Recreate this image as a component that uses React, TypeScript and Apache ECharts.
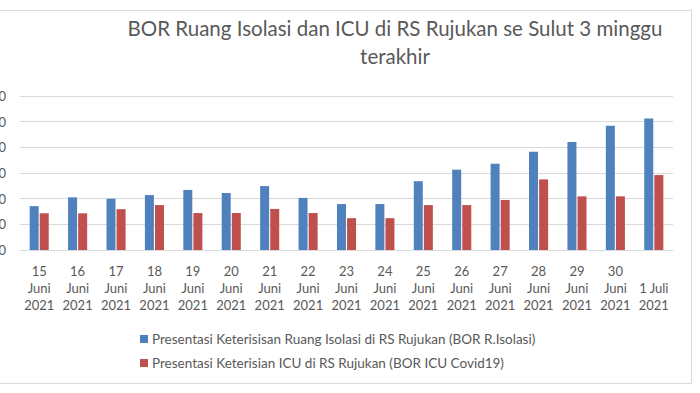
import React, { useEffect, useRef } from "react";
import * as echarts from "echarts";

const days = ["15", "16", "17", "18", "19", "20", "21", "22", "23", "24", "25", "26", "27", "28", "29", "30", ""];
const months = ["Juni", "Juni", "Juni", "Juni", "Juni", "Juni", "Juni", "Juni", "Juni", "Juni", "Juni", "Juni", "Juni", "Juni", "Juni", "Juni", "1 Juli"];
const years = ["2021", "2021", "2021", "2021", "2021", "2021", "2021", "2021", "2021", "2021", "2021", "2021", "2021", "2021", "2021", "2021", "2021"];
const isolasi = [17.1, 20.5, 20.0, 21.4, 23.4, 22.2, 24.9, 20.3, 17.9, 17.9, 26.8, 31.3, 33.6, 38.3, 42.1, 48.4, 51.2];
const icu = [14.3, 14.3, 15.9, 17.5, 14.4, 14.4, 16.0, 14.4, 12.4, 12.4, 17.5, 17.5, 19.5, 27.5, 20.9, 20.9, 29.2];
const seriesNames = [
  "Presentasi Keterisisan Ruang Isolasi di RS Rujukan (BOR R.Isolasi)",
  "Presentasi Keterisian ICU di RS Rujukan (BOR ICU Covid19)",
];
const titleLines = ["BOR Ruang Isolasi dan ICU di RS Rujukan se Sulut 3 minggu", "terakhir"];

export default function App() {
  const ref = useRef<HTMLDivElement>(null);
  useEffect(() => {
    if (!ref.current) return;
    const chart = echarts.init(ref.current, null, { renderer: "svg" });
    const categories = days.map((d, i) => d + "\n" + months[i] + "\n" + years[i]);
    const font = "Lato, 'Open Sans', sans-serif";
    chart.setOption({
      animation: false,
      backgroundColor: "#ffffff",
      textStyle: { fontFamily: font },
      grid: { left: 40, right: 27, top: 96, bottom: 143, containLabel: false },
      graphic: [
        {
          type: "rect",
          shape: { x: 0.5, y: 10.5, width: 711, height: 373 },
          style: { fill: "none", stroke: "#d9d9d9", lineWidth: 1 },
          silent: true,
        },
        {
          type: "text",
          x: 415,
          y: 28,
          style: {
            text: titleLines[0],
            fontFamily: font,
            fontSize: 20.5,
            fill: "#595959",
            textAlign: "center",
            textVerticalAlign: "middle",
          },
        },
        {
          type: "text",
          x: 415,
          y: 56,
          style: {
            text: titleLines[1],
            fontFamily: font,
            fontSize: 20.5,
            fill: "#595959",
            textAlign: "center",
            textVerticalAlign: "middle",
          },
        },
      ],
      legend: {
        orient: "vertical",
        left: 155,
        top: 327,
        itemWidth: 8,
        itemHeight: 8,
        itemGap: 10,
        icon: "rect",
        textStyle: { fontFamily: font, fontSize: 13.5, color: "#595959", padding: [0, 0, 0, -1] },
        data: seriesNames,
      },
      xAxis: {
        type: "category",
        data: categories,
        axisLine: { lineStyle: { color: "#d9d9d9" } },
        axisTick: { show: false },
        axisLabel: {
          interval: 0,
          margin: 12,
          fontSize: 13,
          lineHeight: 17,
          color: "#595959",
          fontFamily: font,
        },
      },
      yAxis: {
        type: "value",
        min: 0,
        max: 60,
        interval: 10,
        axisLine: { show: false },
        axisTick: { show: false },
        splitLine: { lineStyle: { color: "#d9d9d9" } },
        axisLabel: { margin: 14, fontSize: 13, color: "#595959", fontFamily: font },
      },
      series: [
        {
          name: seriesNames[0],
          type: "bar",
          data: isolasi,
          barWidth: 9,
          barGap: "12%",
          itemStyle: { color: "#4F81BD" },
        },
        {
          name: seriesNames[1],
          type: "bar",
          data: icu,
          barWidth: 9,
          itemStyle: { color: "#C0504D" },
        },
      ],
    });
    return () => chart.dispose();
  }, []);
  return (
    <div style={{ position: "absolute", left: 0, top: 0, width: 700, height: 393, overflow: "hidden", background: "#fff" }}>
      <div ref={ref} style={{ position: "absolute", left: -20, top: 0, width: 720, height: 393 }} />
    </div>
  );
}
